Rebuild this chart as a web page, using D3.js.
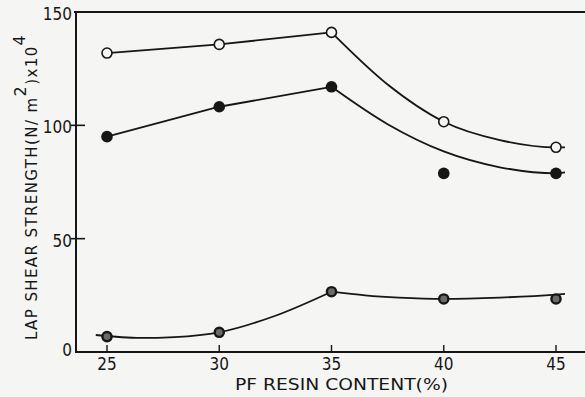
<!DOCTYPE html>
<html><head><meta charset="utf-8">
<script src="https://cdn.jsdelivr.net/npm/d3@7"></script>
<style>
html,body{margin:0;padding:0;background:#f5f5f3;}
svg{display:block;}
</style></head>
<body>
<svg id="c" width="585" height="397"></svg>
<script>
// ---- data ----
const resinContent = [25, 30, 35, 40, 45];
const openValues   = [131.9, 135.7, 141, 101.6, 90.3];
const filledValues = [95, 108.2, 117, 78.8, 78.8];
const ringValues   = [6.8, 8.7, 26.6, 23.4, 23.4];
// hand-drawn fitted curves (x, value)
const openFitStraight   = [[25,131.9],[30,135.7],[35,141]];
const openFitCurve      = [[35,141],[37.5,118],[40,101.6],[42.5,93.5],[45,90.3],[45.4,90.3]];
const filledFitStraight = [[25,95],[30,108.2],[35,117]];
const filledFitCurve    = [[35,117],[37.5,100.5],[40,88.5],[42.5,81.5],[45,78.8],[45.4,79.2]];
const ringFitCurve      = [[24.5,7.5],[26.5,6.2],[28,6.6],[30,8.7],[32.5,16],[35,26.6]];
const ringFitTail       = [[35,26.6],[36.5,25],[38,24],[40,23.4],[42.5,24],[45,25.3],[45.4,25.6]];
const xTicks = [25, 30, 35, 40, 45];
const yTicks = [0, 50, 100, 150];
const xTitle = "PF RESIN CONTENT(%)";

const svg = d3.select("#c");
const x = d3.scaleLinear().domain([25,45]).range([107,556]);
const y = d3.scaleLinear().domain([0,150]).range([352,12]);
const ink = "#161616";
const fontC = "'DejaVu Sans Condensed','DejaVu Sans',sans-serif";
const fontW = "'DejaVu Sans',sans-serif";

// frame lines
const x0 = 76;
svg.append("line").attr("x1",x0).attr("x2",585).attr("y1",y(0)).attr("y2",y(0)).attr("stroke",ink).attr("stroke-width",2);
svg.append("line").attr("x1",x0-2).attr("x2",585).attr("y1",y(150)).attr("y2",y(150)).attr("stroke",ink).attr("stroke-width",2);
svg.append("line").attr("x1",x0).attr("x2",x0).attr("y1",y(150)-1).attr("y2",y(0)+1).attr("stroke",ink).attr("stroke-width",2);

// y ticks
svg.append("g").selectAll("line").data(yTicks.filter(v=>v>0 && v<150)).join("line")
  .attr("x1",x0-5).attr("x2",x0+9).attr("y1",d=>y(d)).attr("y2",d=>y(d))
  .attr("stroke",ink).attr("stroke-width",1.6);
svg.append("g").selectAll("text").data(yTicks).join("text")
  .attr("x", x0-4).attr("y", d=>y(d)+ (d===0?-1:3))
  .attr("text-anchor","end").attr("dominant-baseline","middle")
  .style("font-family",fontC).style("font-size","17px").attr("fill",ink)
  .text(d=>d);

// x ticks
svg.append("g").selectAll("line").data(xTicks).join("line")
  .attr("x1",d=>x(d)).attr("x2",d=>x(d)).attr("y1",y(0)).attr("y2",y(0)-7)
  .attr("stroke",ink).attr("stroke-width",1.4);
svg.append("g").selectAll("text").data(xTicks).join("text")
  .attr("x", d=>x(d)).attr("y", 370)
  .attr("text-anchor","middle")
  .style("font-family",fontC).style("font-size","17px").attr("fill",ink)
  .text(d=>d);

// axis titles
svg.append("text").attr("x", 235).attr("y", 390)
  .attr("textLength", 213).attr("lengthAdjust","spacingAndGlyphs")
  .style("font-family",fontW).style("font-size","16px").attr("fill",ink).text(xTitle);

const yt = svg.append("text").attr("transform","translate(37,340) rotate(-90)")
  .style("font-family",fontW).style("font-size","15px").style("letter-spacing","1.4px").attr("fill",ink);
yt.append("tspan").text("LAP SHEAR STRENGTH(N/ m");
yt.append("tspan").attr("dy",-11).style("font-size","16px").text("2");
yt.append("tspan").attr("dy",11).text(")x10");
yt.append("tspan").attr("dy",-12).style("font-size","16px").text("4");

// lines
const lineStraight = d3.line().x(d=>x(d[0])).y(d=>y(d[1]));
const lineSmooth = d3.line().x(d=>x(d[0])).y(d=>y(d[1])).curve(d3.curveMonotoneX);
const g = svg.append("g").attr("fill","none").attr("stroke",ink).attr("stroke-width",1.8);
g.append("path").attr("d", lineStraight(openFitStraight));
g.append("path").attr("d", lineSmooth(openFitCurve));
g.append("path").attr("d", lineStraight(filledFitStraight));
g.append("path").attr("d", lineSmooth(filledFitCurve));
g.append("path").attr("d", lineSmooth(ringFitCurve));
g.append("path").attr("d", lineSmooth(ringFitTail));

// markers
svg.append("g").selectAll("circle").data(resinContent).join("circle")
  .attr("cx",d=>x(d)).attr("cy",(d,i)=>y(openValues[i])).attr("r",5)
  .attr("fill","#f5f5f3").attr("stroke",ink).attr("stroke-width",1.6);
svg.append("g").selectAll("circle").data(resinContent).join("circle")
  .attr("cx",d=>x(d)).attr("cy",(d,i)=>y(filledValues[i])).attr("r",5.8)
  .attr("fill",ink);
svg.append("g").selectAll("circle").data(resinContent).join("circle")
  .attr("cx",d=>x(d)).attr("cy",(d,i)=>y(ringValues[i])).attr("r",4.6)
  .attr("fill","#6a6a6a").attr("stroke",ink).attr("stroke-width",2.4);
</script>
</body></html>
